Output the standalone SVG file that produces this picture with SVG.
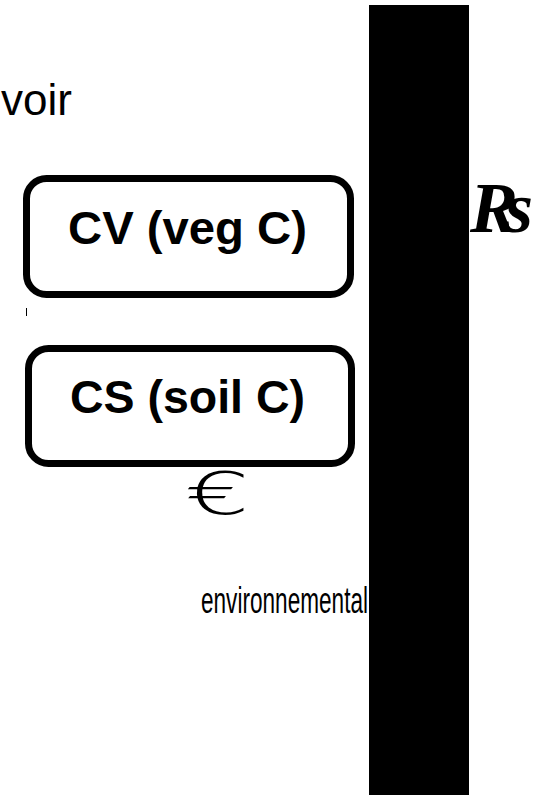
<svg xmlns="http://www.w3.org/2000/svg" width="545" height="795" viewBox="0 0 545 795">
<style>
.box{fill:#fff;stroke:#000;stroke-width:7}
.lbl{font-family:"Liberation Sans",Arial,sans-serif;font-weight:bold;font-size:46px;fill:#000}
.txt{font-family:"Liberation Sans",Arial,sans-serif;fill:#000}
.sym{font-family:"Liberation Serif","Times New Roman",serif;fill:#000}
</style>
<rect id="bar" x="369" y="5" width="100" height="790" fill="#000"/>
<text class="txt" x="72" y="115" font-size="44" text-anchor="end">voir</text>
<text class="txt" x="201" y="613" font-size="36" textLength="167" lengthAdjust="spacingAndGlyphs">environnemental</text>
<g id="cv">
<rect class="box" x="26.5" y="178.5" width="324" height="116" rx="20"/>
<text class="lbl" x="68" y="244" textLength="239" lengthAdjust="spacingAndGlyphs">CV (veg C)</text>
</g>
<g id="cs">
<rect class="box" x="28.5" y="348.5" width="323" height="115" rx="20"/>
<text class="lbl" x="70" y="413" textLength="235" lengthAdjust="spacingAndGlyphs">CS (soil C)</text>
</g>
<g id="connectors">
<line x1="26.5" y1="308" x2="26.5" y2="316" stroke="#000" stroke-width="1"/>
</g>
<text x="185" y="514" font-family="'DejaVu Sans',sans-serif" font-weight="200" font-size="58" textLength="65" lengthAdjust="spacingAndGlyphs">€</text>
<text class="sym" x="470" y="232" font-size="72" font-weight="bold" font-style="italic" letter-spacing="-13">Rs</text>
</svg>
